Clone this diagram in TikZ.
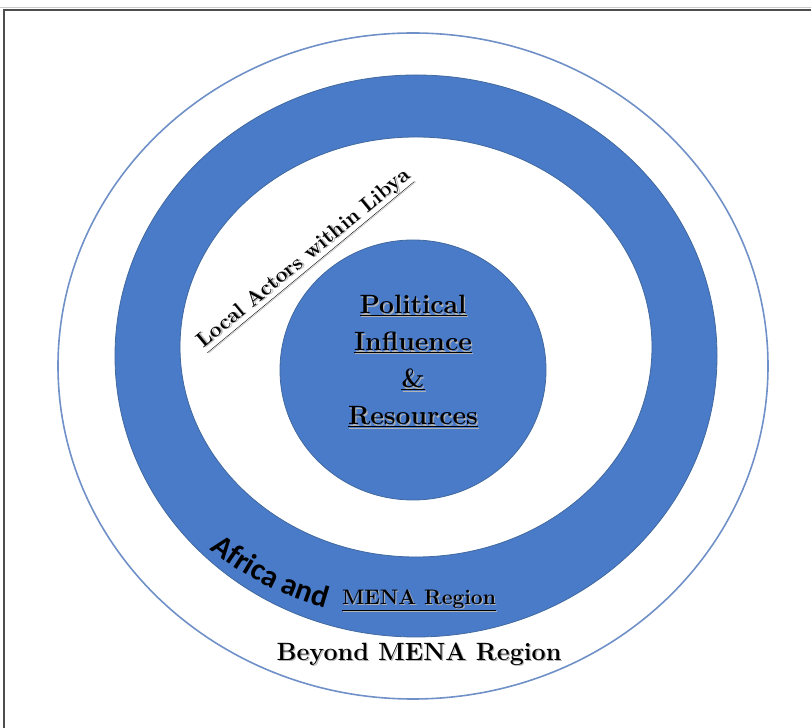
\documentclass[tikz,border=0pt]{standalone}
\usepackage{fontspec}
\newfontfamily\calibrifont{Carlito}
\usetikzlibrary{decorations.text}

\definecolor{ringblue}{HTML}{4A7BC9}
\definecolor{ringedge}{HTML}{41699F}
\definecolor{outerline}{HTML}{7090C8}
\definecolor{framegray}{HTML}{4D4D4D}

% text with a soft grey copy behind it
\newcommand\shadowed[1]{\leavevmode\rlap{\kern1.2pt\raisebox{-1.2pt}{\textcolor{black!30}{#1}}}#1}

\tikzset{
  ring/.style={fill=ringblue, draw=ringedge, line width=0.8pt},
  levellabel/.style={text=black, inner sep=0pt, align=center},
}

\begin{document}
\begin{tikzpicture}[x=1pt, y=1pt]
          \useasboundingbox (0,0) rectangle (811,728);

          %frame
          \draw[black!20, line width=0.6pt] (0,720.5) -- (811,720.5);
          \draw[framegray, line width=1.2pt] (4,0) -- (4,718) -- (811,718);

          \coordinate (outer-c) at (413,362);
          \coordinate (ring-c) at (416,372);
          \coordinate (hole-c) at (416,381);
          \coordinate (core-c) at (413,358);

          %Beyond MENA
          \draw[outerline, line width=1.6pt] (outer-c) ellipse [x radius=355pt, y radius=333pt];

          %Africa and MENA
          \path[ring, even odd rule] (ring-c) ellipse [x radius=301pt, y radius=281pt]
                (hole-c) ellipse [x radius=236pt, y radius=210pt];

          %Political influence
          \path[ring] (core-c) ellipse [x radius=133pt, y radius=130pt];

          \node[levellabel, font=\bfseries\fontsize{26.5}{37}\selectfont] (core) at (413,366)
                {\shadowed{\underline{Political}}\\ \shadowed{\underline{Influence}}\\
                 \shadowed{\underline{\&}}\\ \shadowed{\underline{Resources}}};

          \node[levellabel, font=\bfseries\fontsize{21}{25}\selectfont, rotate=39.6] (local) at (305,468)
                {\shadowed{\underline{Local Actors within Libya}}};

          \path[decorate, decoration={text along path, text align=left,
                text={|\calibrifont\bfseries\fontsize{31}{31}\selectfont|Africa and}}]
                ([shift={(227:303pt and 264pt)}]ring-c) arc[start angle=227, end angle=270, x radius=303pt, y radius=264pt];

          \node[levellabel, font=\bfseries\fontsize{21}{25}\selectfont] (mena) at (419,127)
                {\shadowed{\underline{MENA Region}}};

          \node[levellabel, font=\bfseries\fontsize{25}{29}\selectfont] (beyond) at (419,73)
                {\shadowed{Beyond MENA Region}};
\end{tikzpicture}
\end{document}
